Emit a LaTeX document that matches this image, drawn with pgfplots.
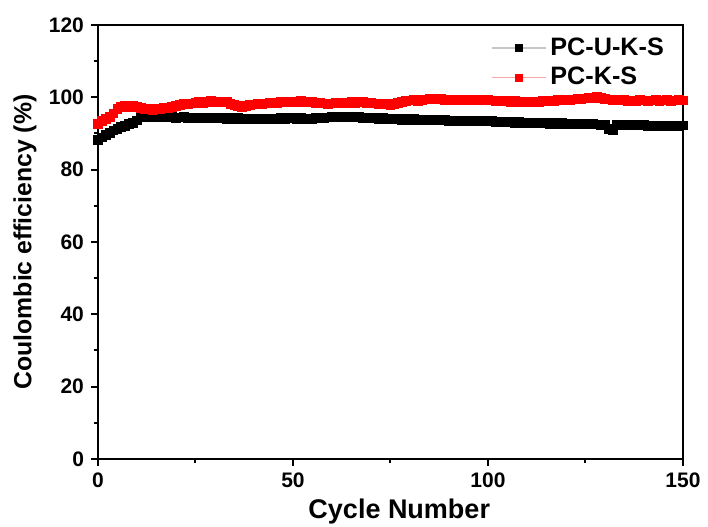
\documentclass[border=0pt]{standalone}
\usepackage{fontspec}
\setmainfont{Liberation Sans}
\usepackage{pgfplots}
\usepackage{pgfplotstable}
\pgfplotsset{compat=1.18}
\pgfplotstableread{
x b r
0 88.3 92.6
1 88.9 93.5
2 89.5 94.0
3 90.2 94.6
4 90.8 95.5
5 91.3 96.8
6 91.7 97.4
7 92.1 97.5
8 92.6 97.3
9 93.0 97.6
10 93.6 97.4
11 94.6 97.0
12 94.8 96.7
13 94.6 96.8
14 94.5 96.6
15 94.6 96.9
16 94.4 96.8
17 94.5 97.0
18 94.4 97.1
19 94.5 97.3
20 94.3 97.6
21 94.4 97.9
22 94.5 98.1
23 94.3 98.2
24 94.4 98.3
25 94.3 98.4
26 94.4 98.6
27 94.3 98.5
28 94.2 98.8
29 94.3 98.9
30 94.2 98.7
31 94.3 98.6
32 94.2 98.8
33 94.1 98.7
34 94.2 98.2
35 94.1 97.8
36 94.2 97.5
37 94.0 97.4
38 94.1 97.6
39 94.0 97.9
40 94.1 98.0
41 94.0 98.1
42 94.1 98.0
43 94.0 98.3
44 94.1 98.4
45 94.0 98.3
46 94.1 98.5
47 94.2 98.6
48 94.1 98.7
49 94.2 98.8
50 94.2 98.8
51 94.1 98.7
52 94.2 98.9
53 94.1 98.8
54 94.0 98.7
55 94.1 98.6
56 94.2 98.5
57 94.3 98.4
58 94.2 98.3
59 94.4 98.2
60 94.5 98.3
61 94.6 98.4
62 94.5 98.3
63 94.7 98.5
64 94.5 98.4
65 94.6 98.6
66 94.4 98.5
67 94.5 98.7
68 94.3 98.6
69 94.4 98.5
70 94.2 98.4
71 94.3 98.3
72 94.1 98.2
73 94.2 98.3
74 94.0 98.1
75 94.1 97.9
76 93.9 98.2
77 94.0 98.5
78 93.8 98.7
79 93.9 98.9
80 93.8 99.1
81 93.9 99.2
82 93.7 99.0
83 93.8 99.3
84 93.7 99.4
85 93.8 99.5
86 93.6 99.6
87 93.7 99.4
88 93.6 99.5
89 93.7 99.3
90 93.5 99.4
91 93.6 99.2
92 93.5 99.3
93 93.6 99.1
94 93.4 99.2
95 93.5 99.1
96 93.4 99.3
97 93.5 99.2
98 93.3 99.1
99 93.4 99.2
100 93.3 99.2
101 93.4 99.1
102 93.2 99.0
103 93.3 99.1
104 93.2 98.9
105 93.1 99.0
106 93.2 98.8
107 93.0 98.9
108 93.1 98.7
109 93.0 98.6
110 92.9 98.7
111 93.0 98.6
112 92.8 98.8
113 92.9 98.7
114 92.8 98.9
115 92.9 99.0
116 92.7 99.1
117 92.8 99.0
118 92.7 99.2
119 92.8 99.1
120 92.6 99.3
121 92.7 99.2
122 92.6 99.4
123 92.7 99.5
124 92.5 99.6
125 92.6 99.7
126 92.5 99.8
127 92.6 99.9
128 92.5 100.0
129 92.4 99.8
130 92.5 99.6
131 91.2 99.4
132 91.0 99.3
133 92.3 99.2
134 92.4 99.1
135 92.3 99.2
136 92.4 99.0
137 92.2 99.1
138 92.3 99.0
139 92.2 99.2
140 92.3 99.1
141 92.1 99.0
142 92.2 99.1
143 92.1 99.2
144 92.2 99.0
145 92.1 99.1
146 92.2 99.2
147 92.1 99.0
148 92.2 99.1
149 92.1 99.2
150 92.2 99.1
}\data
\begin{document}
\begin{tikzpicture}
\begin{axis}[
  scale only axis,
  width=292.5pt, height=217pt,
  xmin=0, xmax=150, ymin=0, ymax=120,
  xtick={0,50,100,150}, ytick={0,20,40,60,80,100,120},
  minor xtick={25,75,125}, minor ytick={10,30,50,70,90,110},
  axis line style={line width=1pt},
  every tick/.style={black, line width=1pt},
  tick align=outside,
  major tick length=3.5pt, minor tick length=2.2pt,
  xtick pos=bottom, ytick pos=left,
  /pgf/number format/assume math mode=true,
  tick label style={font=\bfseries\fontsize{10.5}{12}\selectfont},
  xlabel={Cycle Number}, ylabel={Coulombic efficiency (\%)},
  xlabel style={font=\bfseries\fontsize{13.5}{15}\selectfont, at={(axis description cs:0.515,-0.122)}, anchor=center},
  ylabel style={font=\bfseries\fontsize{12.4}{14}\selectfont, at={(axis description cs:-0.125,0.5)}, anchor=center},
  legend style={draw=none, fill=none, at={(axis description cs:0.985,0.99)}, anchor=north east,
    font=\bfseries\fontsize{12.6}{14}\selectfont, row sep=0.5pt},
  legend cell align=left,
  legend image code/.code={
    \draw[#1, mark=none] (0cm,0cm) -- (0.95cm,0cm);
    \draw plot[#1, only marks] coordinates {(0.475cm,0cm)};
  },
]
\addlegendimage{gray!45, line width=0.8pt, mark=square*, mark options={black, fill=black, scale=1}, mark size=1.6pt}
\addlegendentry{PC-U-K-S}
\addlegendimage{red!35, line width=0.8pt, mark=square*, mark options={red, fill=red, scale=1}, mark size=1.6pt}
\addlegendentry{PC-K-S}
\addplot[forget plot, black, line width=1.7pt, mark=square*, mark size=1.6pt] table[x=x, y=b] {\data};
\addplot[forget plot, red, line width=1.7pt, mark=square*, mark size=1.6pt] table[x=x, y=r] {\data};
\end{axis}
\pgfresetboundingbox
\path (current axis.south west) ++(-49pt,-34pt) rectangle ([xshift=12.5pt,yshift=12.5pt]current axis.north east);
\end{tikzpicture}
\end{document}
